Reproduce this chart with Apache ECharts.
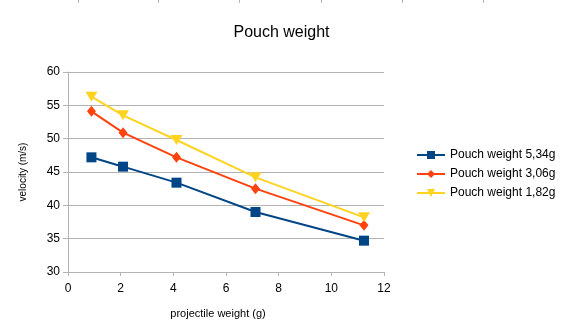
<!DOCTYPE html>
<html><head><meta charset="utf-8">
<script src="https://cdn.jsdelivr.net/npm/echarts@6/dist/echarts.min.js"></script>
<style>html,body{margin:0;padding:0;background:#fff}#c{width:563px;height:335px}</style>
</head><body><div id="c"></div>
<script>
const xWeights = [0.89, 2.09, 4.12, 7.12, 11.24];
const pouch534 = [47.2, 45.8, 43.4, 39.0, 34.7];
const pouch306 = [54.1, 50.9, 47.2, 42.5, 37.0];
const pouch182 = [56.3, 53.5, 49.8, 44.2, 38.2];
const seriesNames = ['Pouch weight 5,34g', 'Pouch weight 3,06g', 'Pouch weight 1,82g'];
const font = 'Liberation Sans, Arial, sans-serif';
const pairs = a => xWeights.map((x, i) => [x, a[i]]);
const chart = echarts.init(document.getElementById('c'));
const topTicks = [78, 158, 239, 321, 402, 483].map(x => ({
  type: 'line', shape: {x1: x + 0.5, y1: 0, x2: x + 0.5, y2: 3}, style: {stroke: '#b3b3b3', lineWidth: 1}
}));
chart.setOption({
  animation: false,
  title: {text: 'Pouch weight', left: 'center', top: 20,
    textStyle: {fontFamily: font, fontSize: 16, fontWeight: 'normal', color: '#000'}},
  graphic: topTicks,
  grid: {left: 68, right: 179, top: 72, bottom: 63},
  legend: {orient: 'vertical', left: 411, top: 144, itemWidth: 28, itemHeight: 10, itemGap: 7,
    textStyle: {fontFamily: font, fontSize: 12, color: '#000'}, data: seriesNames},
  xAxis: {type: 'value', min: 0, max: 12, interval: 2,
    name: 'projectile weight (g)', nameLocation: 'middle', nameGap: 36,
    nameTextStyle: {fontFamily: font, fontSize: 11, color: '#000', padding: [0, 16, 0, 0]},
    axisLine: {show: true, lineStyle: {color: '#b3b3b3'}},
    axisTick: {show: true, inside: false, length: 4, lineStyle: {color: '#b3b3b3'}},
    splitLine: {show: false},
    axisLabel: {fontFamily: font, fontSize: 12, color: '#000', margin: 11}},
  yAxis: {type: 'value', min: 30, max: 60, interval: 5,
    name: 'velocity (m/s)', nameLocation: 'middle', nameGap: 40, nameRotate: 90,
    nameTextStyle: {fontFamily: font, fontSize: 10, color: '#000'},
    axisLine: {show: true, lineStyle: {color: '#b3b3b3'}},
    axisTick: {show: true, length: 5, lineStyle: {color: '#b3b3b3'}},
    splitLine: {show: true, lineStyle: {color: '#b3b3b3'}},
    axisLabel: {fontFamily: font, fontSize: 12, color: '#000', margin: 8}},
  series: [
    {name: seriesNames[0], type: 'line', data: pairs(pouch534), symbol: 'rect', symbolSize: 10,
      lineStyle: {width: 2, color: '#004586'}, itemStyle: {color: '#004586'}},
    {name: seriesNames[1], type: 'line', data: pairs(pouch306), symbol: 'diamond', symbolSize: [9, 11],
      lineStyle: {width: 2, color: '#ff420e'}, itemStyle: {color: '#ff420e'}},
    {name: seriesNames[2], type: 'line', data: pairs(pouch182), symbol: 'triangle', symbolRotate: 180, symbolSize: [12, 10],
      lineStyle: {width: 2, color: '#ffd320'}, itemStyle: {color: '#ffd320'}}
  ]
});
</script></body></html>
